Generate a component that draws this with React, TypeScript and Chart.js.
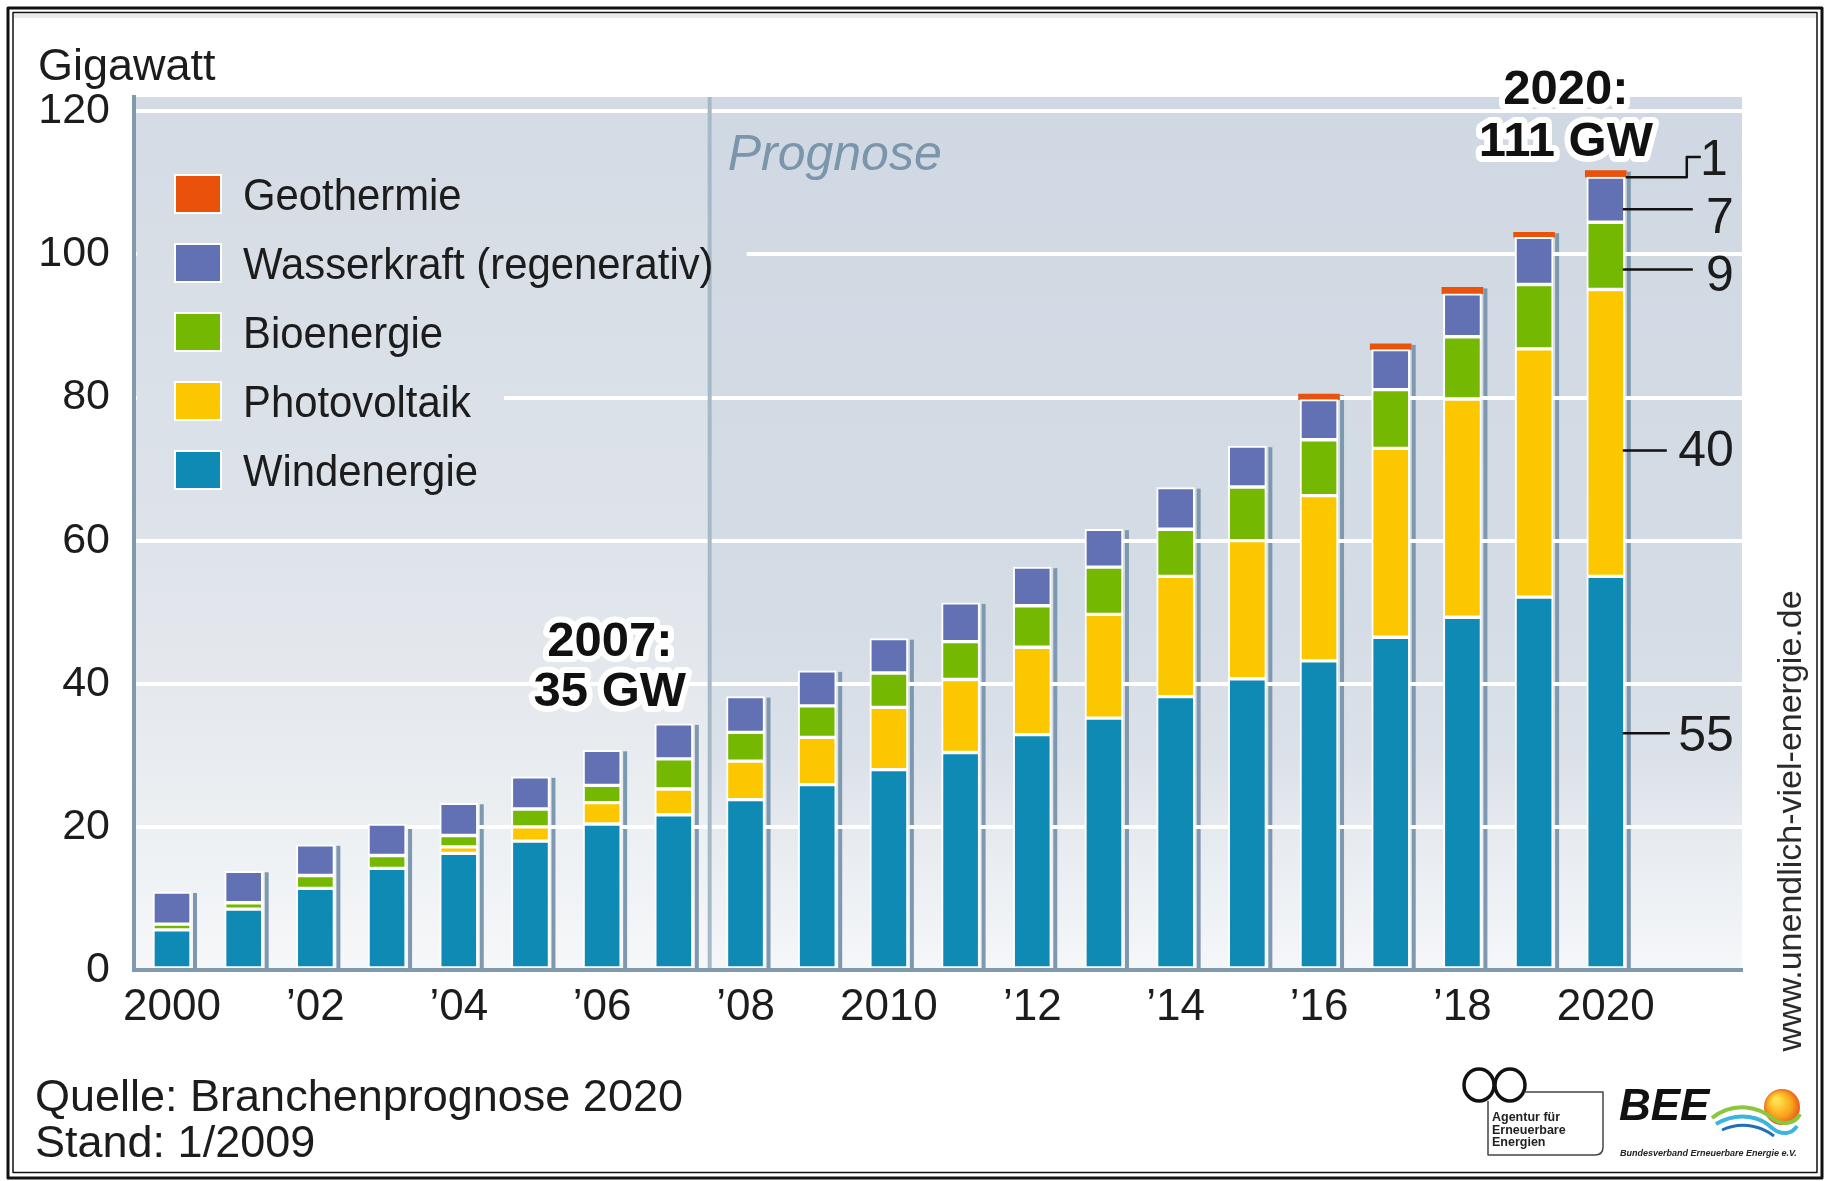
import React, { useEffect, useRef } from "react";
import { Chart, registerables } from "chart.js";

Chart.register(...registerables);

// ---------- data ----------
const years = [2000, 2001, 2002, 2003, 2004, 2005, 2006, 2007, 2008, 2009, 2010, 2011, 2012, 2013, 2014, 2015, 2016, 2017, 2018, 2019, 2020];
const windenergie = [5.6, 8.5, 11.4, 14.2, 16.3, 18.0, 20.4, 21.7, 23.8, 25.9, 28.0, 30.4, 32.9, 35.2, 38.2, 40.7, 43.2, 46.5, 49.3, 52.1, 55.0];
const photovoltaik = [0, 0, 0, 0, 0.9, 2.0, 3.0, 3.6, 5.4, 6.6, 8.7, 10.2, 12.2, 14.5, 16.8, 19.3, 23.1, 26.4, 30.5, 34.7, 40.1];
const bioenergie = [0.8, 0.9, 1.8, 1.8, 1.6, 2.5, 2.4, 4.2, 4.0, 4.4, 4.8, 5.3, 5.8, 6.6, 6.6, 7.5, 7.8, 8.2, 8.7, 9.0, 9.4];
const wasserkraft = [4.5, 4.4, 4.3, 4.4, 4.5, 4.5, 4.9, 4.9, 5.0, 4.9, 4.8, 5.4, 5.4, 5.3, 5.8, 5.7, 5.6, 5.6, 6.0, 6.6, 6.3];
const geothermie = [null, null, null, null, null, null, null, null, null, null, null, null, null, null, null, null, 0.8, 0.8, 0.9, 0.7, 0.9];
const seriesNames = ["Windenergie", "Photovoltaik", "Bioenergie", "Wasserkraft (regenerativ)", "Geothermie"];
const xTickYears = [2000, 2002, 2004, 2006, 2008, 2010, 2012, 2014, 2016, 2018, 2020];
const xTickLabels = ["2000", "\u201902", "\u201904", "\u201906", "\u201908", "2010", "\u201912", "\u201914", "\u201916", "\u201918", "2020"];
const yTickValues = [0, 20, 40, 60, 80, 100, 120];
const lastActualYear = 2007;
const callout2007 = ["2007:", "35 GW"];
const callout2020 = ["2020:", "111 GW"];
const labels2020 = ["55", "40", "9", "7", "1"];

const totals = years.map((_, i) =>
  windenergie[i] + photovoltaik[i] + bioenergie[i] + wasserkraft[i] + (geothermie[i] || 0)
);

// ---------- styling ----------
const FONT = '"Liberation Sans", Arial, Helvetica, sans-serif';
const COLORS = ["#0e8ab4", "#fdc700", "#74b801", "#6271b3", "#ea520c"];
const AXIS = "#7f99ae";
const INK = "#1c1c1c";

function paintBand(ctx: CanvasRenderingContext2D, a: any, divX: number) {
  const gL = ctx.createLinearGradient(0, a.top, 0, a.bottom);
  gL.addColorStop(0, "#d4dbe4");
  gL.addColorStop(0.3, "#d9e0e7");
  gL.addColorStop(0.5, "#dee3ea");
  gL.addColorStop(0.68, "#e5e9ee");
  gL.addColorStop(0.84, "#ecf0f3");
  gL.addColorStop(1, "#f6f7f9");
  ctx.fillStyle = gL;
  ctx.fillRect(a.left, a.top, divX - a.left, a.bottom - a.top);
  const gR = ctx.createLinearGradient(0, a.top, 0, a.bottom);
  gR.addColorStop(0, "#d0d9e3");
  gR.addColorStop(0.6, "#d4dce5");
  gR.addColorStop(0.75, "#dbe1e9");
  gR.addColorStop(0.85, "#e7ebf0");
  gR.addColorStop(1, "#f5f7f9");
  ctx.fillStyle = gR;
  ctx.fillRect(divX, a.top, a.right - divX, a.bottom - a.top);
}

function haloText(ctx: CanvasRenderingContext2D, t: string, x: number, y: number, w: number) {
  ctx.lineJoin = "round";
  ctx.lineWidth = w;
  ctx.strokeStyle = "#ffffff";
  ctx.strokeText(t, x, y);
  ctx.fillText(t, x, y);
}

const decor = {
  id: "decor",
  beforeDraw(chart: any) {
    const { ctx, chartArea: a } = chart;
    const xs = chart.scales.x;
    const ys = chart.scales.y;
    const divX = xs.getPixelForValue(lastActualYear + 0.5);
    ctx.save();
    ctx.fillStyle = "#ffffff";
    ctx.fillRect(0, 0, chart.width, chart.height);
    paintBand(ctx, a, divX);
    // bar shadows
    ctx.fillStyle = "#7e99af";
    years.forEach((yr, i) => {
      const cx = xs.getPixelForValue(yr) + 23;
      const top = ys.getPixelForValue(totals[i]);
      ctx.fillRect(cx - 2, top + 1, 4, a.bottom - top - 1);
    });
    ctx.restore();
  },
  beforeDatasetsDraw(chart: any) {
    const { ctx, chartArea: a } = chart;
    const xs = chart.scales.x;
    const divX = xs.getPixelForValue(lastActualYear + 0.5);
    ctx.save();
    ctx.font = `45px ${FONT}`;
    const items = chart.data.datasets.slice().reverse();
    const squeeze = 0.93;
    // masks behind legend rows
    items.forEach((d: any, k: number) => {
      const cy = a.top + 97 + k * 69;
      const w = ctx.measureText(d.label).width * squeeze;
      const right = a.left + 109 + w + 33;
      ctx.save();
      ctx.beginPath();
      ctx.rect(a.left + 3, cy - 30, right - a.left - 3, 60);
      ctx.clip();
      paintBand(ctx, a, divX);
      ctx.restore();
    });
    // divider
    ctx.fillStyle = "#a6b9c8";
    ctx.fillRect(divX - 2, a.top, 4, a.bottom - a.top);
    // legend
    items.forEach((d: any, k: number) => {
      const cy = a.top + 97 + k * 69;
      ctx.fillStyle = "#ffffff";
      ctx.fillRect(a.left + 40, cy - 20, 48, 40);
      ctx.fillStyle = d.backgroundColor;
      ctx.fillRect(a.left + 42, cy - 18, 44, 36);
      ctx.save();
      ctx.translate(a.left + 109, cy + 16);
      ctx.scale(squeeze, 1);
      ctx.fillStyle = INK;
      ctx.textBaseline = "alphabetic";
      ctx.textAlign = "left";
      ctx.fillText(d.label, 0, 0);
      ctx.restore();
    });
    // Prognose
    ctx.font = `italic 50px ${FONT}`;
    ctx.fillStyle = "#7b95aa";
    ctx.textAlign = "left";
    ctx.textBaseline = "alphabetic";
    ctx.fillText("Prognose", divX + 18, a.top + 73);
    ctx.restore();
  },
  afterDraw(chart: any) {
    const { ctx, chartArea: a } = chart;
    const xs = chart.scales.x;
    const ys = chart.scales.y;
    ctx.save();
    // callouts
    ctx.font = `bold 49px ${FONT}`;
    ctx.fillStyle = "#111111";
    ctx.textAlign = "center";
    ctx.textBaseline = "alphabetic";
    const i07 = years.indexOf(2007);
    const x07 = xs.getPixelForValue(2007) - 64;
    const t07 = ys.getPixelForValue(totals[i07]) - 18;
    haloText(ctx, callout2007[0], x07, t07 - 50, 12);
    haloText(ctx, callout2007[1], x07, t07, 12);
    const i20 = years.indexOf(2020);
    const x20 = xs.getPixelForValue(2020) - 40;
    const t20 = ys.getPixelForValue(totals[i20]) - 15;
    haloText(ctx, callout2020[0], x20, t20 - 52, 12);
    haloText(ctx, callout2020[1], x20, t20, 12);

    // 2020 leader lines + labels
    const bx = xs.getPixelForValue(2020);
    const y = (v: number) => ys.getPixelForValue(v);
    ctx.strokeStyle = "#111111";
    ctx.lineWidth = 2.5;
    ctx.lineCap = "butt";
    const simple = [
      { lv: 33.1, tv: 32.8, end: 64, text: labels2020[0] },
      { lv: 72.6, tv: 72.6, end: 61, text: labels2020[1] },
      { lv: 97.9, tv: 97.1, end: 87, text: labels2020[2] },
      { lv: 106.3, tv: 105.2, end: 87, text: labels2020[3] },
    ];
    simple.forEach((s) => {
      ctx.beginPath();
      ctx.moveTo(bx + 17, y(s.lv));
      ctx.lineTo(bx + s.end, y(s.lv));
      ctx.stroke();
    });
    ctx.beginPath();
    ctx.moveTo(bx + 20, y(110.8));
    ctx.lineTo(bx + 81, y(110.8));
    ctx.lineTo(bx + 81, y(113.6));
    ctx.lineTo(bx + 95, y(113.6));
    ctx.stroke();
    ctx.font = `50px ${FONT}`;
    ctx.fillStyle = INK;
    ctx.textAlign = "right";
    ctx.textBaseline = "middle";
    simple.forEach((s) => ctx.fillText(s.text, bx + 128, y(s.tv) + 2));
    ctx.fillText(labels2020[4], bx + 122, y(113.3) + 2);

    // y unit
    ctx.font = `45px ${FONT}`;
    ctx.textAlign = "left";
    ctx.textBaseline = "alphabetic";
    ctx.fillStyle = INK;
    ctx.fillText("Gigawatt", 38, 80);
    // footer
    ctx.fillText("Quelle: Branchenprognose 2020", 35, 1111);
    ctx.fillText("Stand: 1/2009", 35, 1157);
    // url vertical
    ctx.save();
    ctx.translate(1792, 821);
    ctx.rotate(-Math.PI / 2);
    ctx.font = `34px ${FONT}`;
    ctx.fillStyle = "#2a2a2a";
    ctx.textAlign = "center";
    ctx.textBaseline = "middle";
    ctx.fillText("www.unendlich-viel-energie.de", 0, 0);
    ctx.restore();

    // logos
    ctx.strokeStyle = "#111111";
    ctx.lineWidth = 3.5;
    ctx.beginPath();
    ctx.ellipse(1479, 1085, 15, 16, 0, 0, Math.PI * 2);
    ctx.stroke();
    ctx.beginPath();
    ctx.ellipse(1510, 1085, 15, 16, 0, 0, Math.PI * 2);
    ctx.stroke();
    ctx.lineWidth = 1.5;
    ctx.strokeStyle = "#444444";
    ctx.beginPath();
    ctx.moveTo(1524, 1092);
    ctx.lineTo(1603, 1092);
    ctx.lineTo(1603, 1147);
    ctx.quadraticCurveTo(1603, 1155, 1595, 1155);
    ctx.lineTo(1488, 1155);
    ctx.lineTo(1488, 1101);
    ctx.stroke();
    ctx.font = `bold 12.5px ${FONT}`;
    ctx.fillStyle = "#222222";
    ctx.fillText("Agentur f\u00fcr", 1492, 1121);
    ctx.fillText("Erneuerbare", 1492, 1134);
    ctx.fillText("Energien", 1492, 1146);
    ctx.font = `italic bold 44px ${FONT}`;
    ctx.fillStyle = "#111111";
    ctx.fillText("BEE", 1619, 1120);
    const sun = ctx.createRadialGradient(1776, 1100, 3, 1782, 1107, 19);
    sun.addColorStop(0, "#ffe14a");
    sun.addColorStop(0.6, "#f9a21a");
    sun.addColorStop(1, "#e9501a");
    ctx.fillStyle = sun;
    ctx.beginPath();
    ctx.arc(1782, 1107, 18, 0, Math.PI * 2);
    ctx.fill();
    ctx.lineWidth = 4;
    ctx.strokeStyle = "#8cc63f";
    ctx.beginPath();
    ctx.moveTo(1712, 1118);
    ctx.bezierCurveTo(1735, 1100, 1760, 1108, 1772, 1118);
    ctx.bezierCurveTo(1782, 1126, 1795, 1124, 1800, 1114);
    ctx.stroke();
    ctx.strokeStyle = "#3cb4e0";
    ctx.beginPath();
    ctx.moveTo(1716, 1124);
    ctx.bezierCurveTo(1740, 1110, 1762, 1118, 1772, 1128);
    ctx.bezierCurveTo(1782, 1136, 1792, 1134, 1797, 1126);
    ctx.stroke();
    ctx.strokeStyle = "#1e6fb5";
    ctx.lineWidth = 3;
    ctx.beginPath();
    ctx.moveTo(1722, 1130);
    ctx.bezierCurveTo(1744, 1120, 1764, 1128, 1774, 1136);
    ctx.stroke();
    ctx.font = `italic bold 9px ${FONT}`;
    ctx.fillStyle = "#222222";
    ctx.fillText("Bundesverband Erneuerbare Energie e.V.", 1620, 1156);

    // frame
    ctx.fillStyle = "#e6eaee";
    ctx.fillRect(14, 14, 1802, 4);
    ctx.strokeStyle = "#111111";
    ctx.lineWidth = 3;
    ctx.strokeRect(8, 8, 1814, 1170);
    ctx.lineWidth = 1.5;
    ctx.strokeRect(13, 12.5, 1804, 1160);
    ctx.restore();
  },
};

export default function App() {
  const ref = useRef<HTMLCanvasElement>(null);
  useEffect(() => {
    document.documentElement.style.margin = "0";
    document.body.style.margin = "0";
    document.body.style.overflow = "hidden";
    const canvas = ref.current;
    if (!canvas) return;
    const series = [windenergie, photovoltaik, bioenergie, wasserkraft, geothermie];
    const datasets = series.map((vals, k) => ({
      label: seriesNames[k],
      data: years.map((yr, i) => ({ x: yr, y: vals[i] })),
      backgroundColor: COLORS[k],
      borderColor: "#ffffff",
      borderWidth: k === 4 ? 0 : 2,
      borderSkipped: false,
      barThickness: k === 4 ? 41 : 38,
    }));
    const chart = new Chart(canvas, {
      type: "bar",
      data: { datasets } as any,
      plugins: [decor],
      options: {
        responsive: false,
        animation: false,
        devicePixelRatio: 1,
        events: [],
        layout: { padding: { left: 0, right: 85, top: 97, bottom: 0 } },
        plugins: { legend: { display: false }, tooltip: { enabled: false } },
        scales: {
          x: {
            type: "linear",
            stacked: true,
            min: 1999.47,
            max: 2021.9,
            offset: false,
            grid: { display: false, drawTicks: false, offset: false },
            border: { display: true, color: AXIS, width: 4, z: 1 },
            afterBuildTicks: (s: any) => {
              s.ticks = xTickYears.map((v) => ({ value: v }));
            },
            afterFit: (s: any) => {
              s.height = 211;
            },
            ticks: {
              autoSkip: false,
              maxRotation: 0,
              padding: 11,
              color: INK,
              font: { family: FONT, size: 44 },
              callback: (v: any) => {
                const k = xTickYears.indexOf(Number(v));
                return k >= 0 ? xTickLabels[k] : "";
              },
            },
          },
          y: {
            stacked: true,
            min: 0,
            max: 122,
            grid: { color: "#ffffff", lineWidth: 4, drawTicks: false },
            border: { display: true, color: AXIS, width: 4, z: 1 },
            afterBuildTicks: (s: any) => {
              s.ticks = yTickValues.map((v) => ({ value: v }));
            },
            afterFit: (s: any) => {
              s.width = 134;
            },
            ticks: {
              padding: 24,
              color: INK,
              font: { family: FONT, size: 43 },
            },
          },
        },
      } as any,
    });
    return () => chart.destroy();
  }, []);
  return (
    <canvas
      ref={ref}
      width={1827}
      height={1181}
      style={{ display: "block", width: "1827px", height: "1181px" }}
    />
  );
}
